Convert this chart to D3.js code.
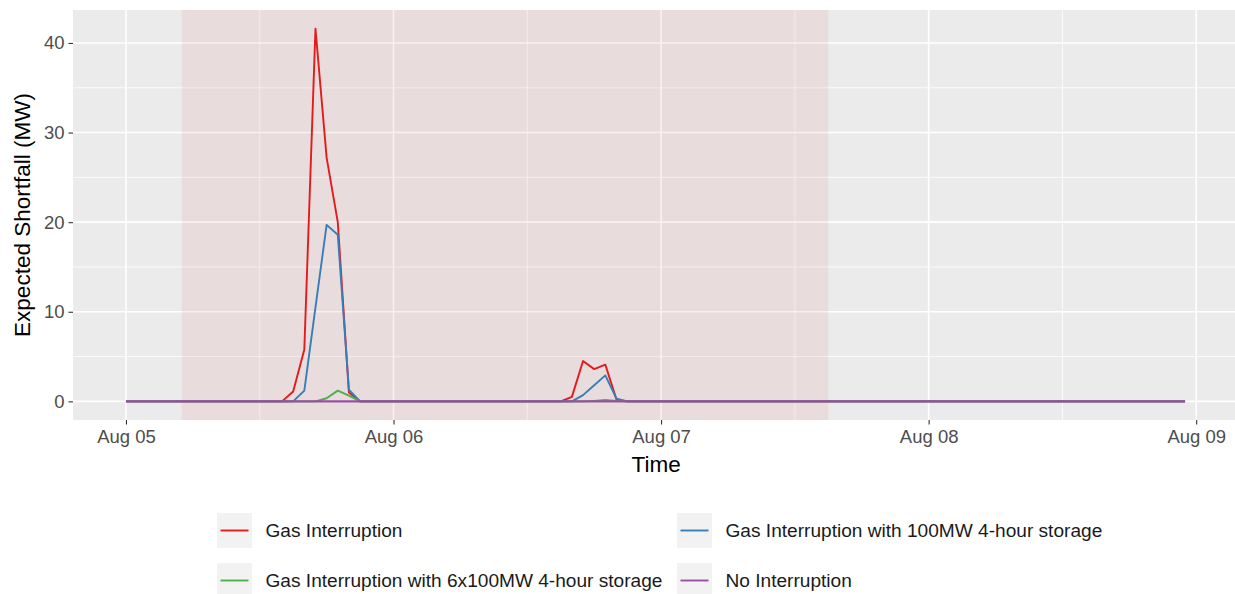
<!DOCTYPE html>
<html>
<head>
<meta charset="utf-8">
<script src="https://cdn.jsdelivr.net/npm/d3@7"></script>
<style>
  body { margin: 0; background: #fff; }
  svg { display: block; font-family: "Liberation Sans", Arial, sans-serif; }
</style>
</head>
<body>
<svg id="chart" width="1235" height="594"></svg>
<script>
// hourly values starting Aug 05 00:00 (96 hours)
var startTime = Date.UTC(2019, 7, 5, 0)
var hours = d3.range(96)

var gasInterruption = [
  0,0,0,0,0,0,0,0,0,0,0,0,0,0,0,1.1,5.8,41.6,27.2,20.0,1.0,0,0,0,
  0,0,0,0,0,0,0,0,0,0,0,0,0,0,0,0,0.5,4.5,3.6,4.1,0.2,0,0,0,
  0,0,0,0,0,0,0,0,0,0,0,0,0,0,0,0,0,0,0,0,0,0,0,0,
  0,0,0,0,0,0,0,0,0,0,0,0,0,0,0,0,0,0,0,0,0,0,0,0
]
var gas100 = [
  0,0,0,0,0,0,0,0,0,0,0,0,0,0,0,0,1.2,10.5,19.7,18.6,1.3,0,0,0,
  0,0,0,0,0,0,0,0,0,0,0,0,0,0,0,0,0,0.7,1.8,2.9,0.3,0,0,0,
  0,0,0,0,0,0,0,0,0,0,0,0,0,0,0,0,0,0,0,0,0,0,0,0,
  0,0,0,0,0,0,0,0,0,0,0,0,0,0,0,0,0,0,0,0,0,0,0,0
]
var gas600 = [
  0,0,0,0,0,0,0,0,0,0,0,0,0,0,0,0,0,0,0.35,1.2,0.65,0,0,0,
  0,0,0,0,0,0,0,0,0,0,0,0,0,0,0,0,0,0,0.05,0.15,0.05,0,0,0,
  0,0,0,0,0,0,0,0,0,0,0,0,0,0,0,0,0,0,0,0,0,0,0,0,
  0,0,0,0,0,0,0,0,0,0,0,0,0,0,0,0,0,0,0,0,0,0,0,0
]
var noInterruption = [
  0,0,0,0,0,0,0,0,0,0,0,0,0,0,0,0,0,0,0,0,0,0,0,0,
  0,0,0,0,0,0,0,0,0,0,0,0,0,0,0,0,0,0,0,0,0,0,0,0,
  0,0,0,0,0,0,0,0,0,0,0,0,0,0,0,0,0,0,0,0,0,0,0,0,
  0,0,0,0,0,0,0,0,0,0,0,0,0,0,0,0,0,0,0,0,0,0,0,0
]

var seriesNames = ["Gas Interruption", "Gas Interruption with 100MW 4-hour storage",
  "Gas Interruption with 6x100MW 4-hour storage", "No Interruption"]
var seriesColors = ["#E41A1C", "#377EB8", "#4DAF4A", "#984EA3"]
var seriesValues = [gasInterruption, gas100, gas600, noInterruption]

// interruption window (hours from start)
var shadeStart = 5, shadeEnd = 63

var yTicks = [0, 10, 20, 30, 40]
var yMinor = [5, 15, 25, 35]
var xTickLabels = ["Aug 05", "Aug 06", "Aug 07", "Aug 08", "Aug 09"]

var H = 3600 * 1000
var hourDate = function(h) { return new Date(startTime + h * H) }

var svg = d3.select("#chart")
var panel = { left: 73, top: 10, right: 1238, bottom: 420 }

var x = d3.scaleUtc()
    .domain([hourDate(-4.75), hourDate(99.75)])
    .range([panel.left, panel.right])
var y = d3.scaleLinear()
    .domain([-2.08, 43.68])
    .range([panel.bottom, panel.top])

var dayTicks = d3.range(5).map(function(d) { return hourDate(d * 24) })
var halfDays = d3.range(4).map(function(d) { return hourDate(d * 24 + 12) })

svg.append("rect")
    .attr("x", panel.left).attr("y", panel.top)
    .attr("width", panel.right - panel.left).attr("height", panel.bottom - panel.top)
    .attr("fill", "#EBEBEB")

var grid = svg.append("g")
grid.selectAll(".ymin").data(yMinor).join("line")
    .attr("x1", panel.left).attr("x2", panel.right)
    .attr("y1", function(d) { return y(d) }).attr("y2", function(d) { return y(d) })
    .attr("stroke", "#fff").attr("stroke-width", 0.8)
grid.selectAll(".xmin").data(halfDays).join("line")
    .attr("y1", panel.top).attr("y2", panel.bottom)
    .attr("x1", function(d) { return x(d) }).attr("x2", function(d) { return x(d) })
    .attr("stroke", "#fff").attr("stroke-width", 0.8)
grid.selectAll(".ymaj").data(yTicks).join("line")
    .attr("x1", panel.left).attr("x2", panel.right)
    .attr("y1", function(d) { return y(d) }).attr("y2", function(d) { return y(d) })
    .attr("stroke", "#fff").attr("stroke-width", 1.6)
grid.selectAll(".xmaj").data(dayTicks).join("line")
    .attr("y1", panel.top).attr("y2", panel.bottom)
    .attr("x1", function(d) { return x(d) }).attr("x2", function(d) { return x(d) })
    .attr("stroke", "#fff").attr("stroke-width", 1.6)

// shaded interruption period
svg.append("rect")
    .attr("x", x(hourDate(shadeStart))).attr("y", panel.top)
    .attr("width", x(hourDate(shadeEnd)) - x(hourDate(shadeStart)))
    .attr("height", panel.bottom - panel.top)
    .attr("fill", "rgb(200,20,30)").attr("fill-opacity", 0.065)

var line = d3.line()
    .x(function(d, i) { return x(hourDate(hours[i])) })
    .y(function(d) { return y(d) })

svg.append("g").selectAll("path").data(seriesValues).join("path")
    .attr("d", line)
    .attr("fill", "none")
    .attr("stroke", function(d, i) { return seriesColors[i] })
    .attr("stroke-width", function(d, i) { return i == 3 ? 2.3 : 1.9 })
    .attr("stroke-linejoin", "round")

// axes
var xAxis = svg.append("g")
    .attr("transform", "translate(0," + panel.bottom + ")")
    .call(d3.axisBottom(x).tickValues(dayTicks)
        .tickFormat(function(d, i) { return xTickLabels[i] })
        .tickSize(4.5).tickPadding(5))
var yAxis = svg.append("g")
    .attr("transform", "translate(" + panel.left + ",0)")
    .call(d3.axisLeft(y).tickValues(yTicks).tickSize(4.5).tickPadding(4))
;[xAxis, yAxis].forEach(function(a) {
    a.select(".domain").remove()
    a.selectAll(".tick line").attr("stroke", "#333").attr("stroke-width", 1.1)
    a.selectAll(".tick text").attr("fill", "#4D4D4D")
        .style("font-size", "18.5px").style("font-family", "Liberation Sans, Arial, sans-serif")
})

svg.append("text")
    .attr("x", x(hourDate(48)) - 5).attr("y", 472)
    .attr("text-anchor", "middle")
    .style("font-size", "22.5px")
    .text("Time")

svg.append("text")
    .attr("transform", "translate(30," + ((panel.top + panel.bottom) / 2) + ") rotate(-90)")
    .attr("text-anchor", "middle")
    .style("font-size", "22.5px")
    .text("Expected Shortfall (MW)")

// legend, two columns by row
var legendX = [217, 677], legendY = [513, 563]
var legend = svg.append("g").selectAll("g").data(seriesNames).join("g")
    .attr("transform", function(d, i) {
        return "translate(" + legendX[i % 2] + "," + legendY[Math.floor(i / 2)] + ")"
    })
legend.append("rect")
    .attr("width", 35).attr("height", 35).attr("fill", "#F2F2F2")
legend.append("line")
    .attr("x1", 3.5).attr("x2", 31.5).attr("y1", 17.5).attr("y2", 17.5)
    .attr("stroke", function(d, i) { return seriesColors[i] }).attr("stroke-width", 1.9)
legend.append("text")
    .attr("x", 48.5).attr("y", 17.5).attr("dy", "0.35em")
    .style("font-size", "19.1px").attr("fill", "#1a1a1a")
    .text(function(d) { return d })
</script>
</body>
</html>
